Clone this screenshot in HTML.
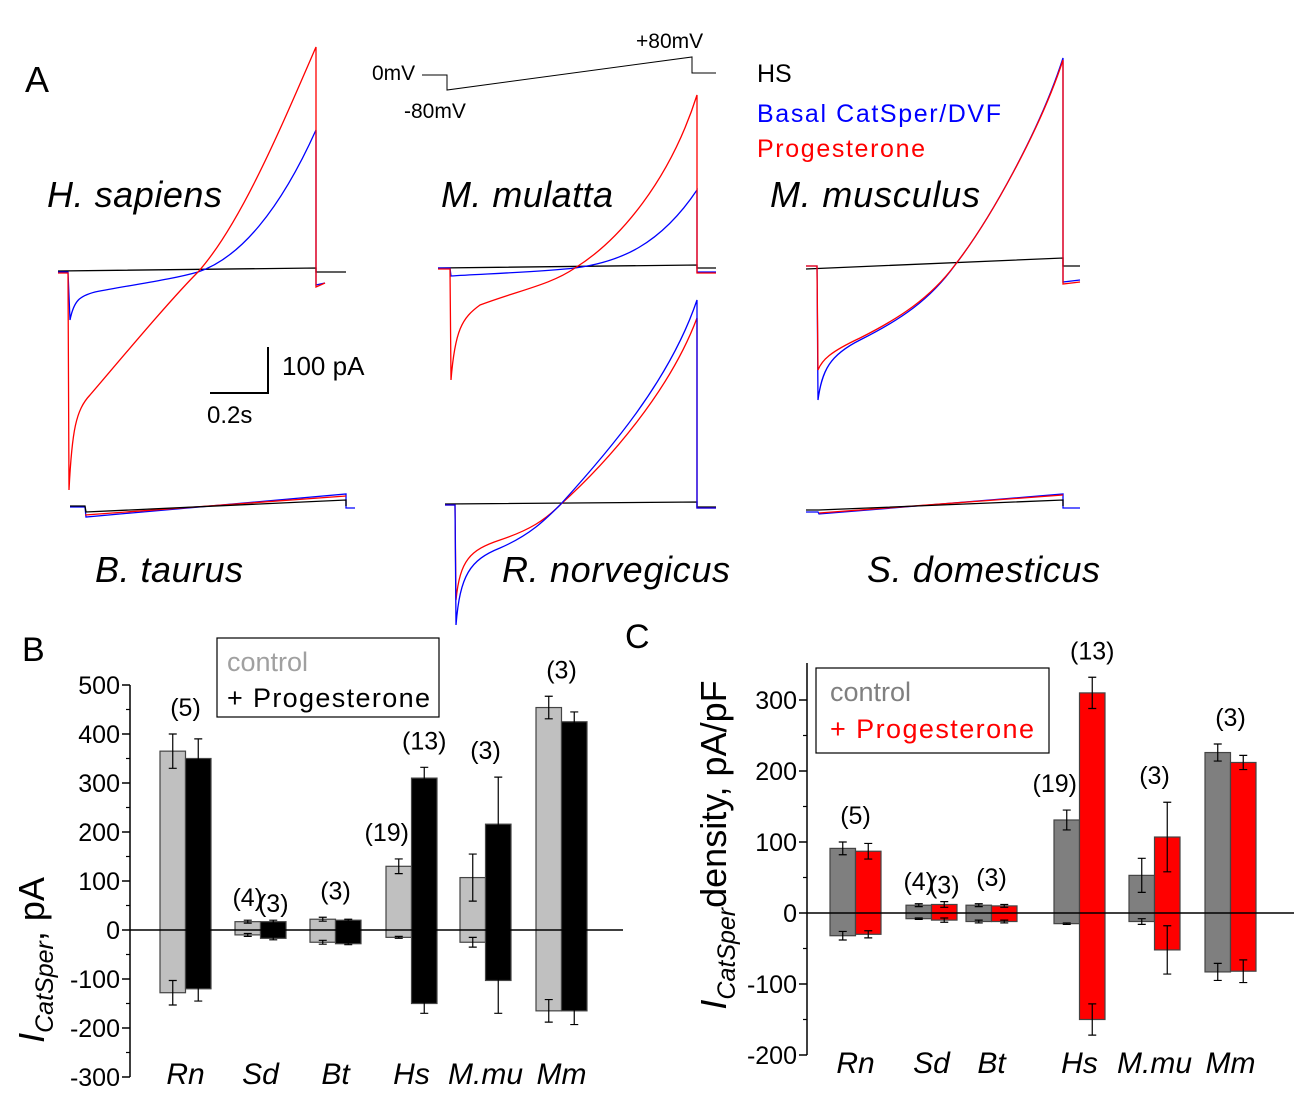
<!DOCTYPE html>
<html><head><meta charset="utf-8"><style>
body{margin:0;background:#fff}
svg{font-family:"Liberation Sans",Arial,sans-serif}
</style></head><body>
<svg id="fig" width="1299" height="1097" viewBox="0 0 1299 1097" xmlns="http://www.w3.org/2000/svg" style="position:absolute;left:0;top:0">
<g fill="none" stroke-width="1.3">
<text x="25" y="92" font-size="36" fill="#000" stroke="none">A</text>
<g stroke="#000" stroke-width="1">
<polyline points="422,75 447,75 447,90 692,57 692,73 716,73"/>
</g>
<text x="372" y="80" font-size="21" fill="#000" stroke="none">0mV</text>
<text x="404" y="118" font-size="21" fill="#000" stroke="none">-80mV</text>
<text x="636" y="48" font-size="21" fill="#000" stroke="none">+80mV</text>
<text x="757" y="82" font-size="25" fill="#000" stroke="none">HS</text>
<text x="757" y="122" font-size="25" fill="#0000ff" stroke="none" textLength="244">Basal CatSper/DVF</text>
<text x="757" y="157" font-size="25" fill="#ff0000" stroke="none" textLength="168">Progesterone</text>
<g>
<polyline stroke="#000" points="58,271 316,268 316,272 346,272"/>
<path stroke="#0000ff" d="M58,272 L68,272 L70,320 C74,300 80,296 95,292 C130,285 170,280 198,272 C240,258 280,210 316,130 L316,285 L325,283"/>
<path stroke="#ff0000" d="M58,273 L68,273 L69,490 C72,430 76,410 90,395 C120,360 170,300 198,272 C240,225 280,130 316,47 L316,287 L325,283"/>
</g>
<polyline stroke="#000" stroke-width="2" points="268,347 268,393 210,393"/>
<text x="282" y="375" font-size="26" fill="#000" stroke="none">100 pA</text>
<text x="207" y="423" font-size="24" fill="#000" stroke="none">0.2s</text>
<g>
<polyline stroke="#000" points="438,268 697,265 697,268 716,268"/>
<path stroke="#0000ff" d="M438,268 L450,268 L451,276 C480,274 540,272 575,268 C620,262 660,245 697,190 L697,272 L716,272"/>
<path stroke="#ff0000" d="M438,269 L450,269 L451,380 C455,330 462,318 480,305 C520,290 550,285 575,268 C620,240 670,180 697,95 L697,273 L716,273"/>
</g>
<g>
<polyline stroke="#000" points="806,269 1063,258 1063,266 1080,266"/>
<path stroke="#0000ff" d="M806,266 L817,266 L818,400 C822,370 830,355 860,340 C900,320 930,300 955,265 C990,220 1040,130 1063,58 L1063,282 L1080,280"/>
<path stroke="#ff0000" d="M806,266 L817,266 L818,370 C822,360 830,352 860,338 C900,318 930,298 955,265 C990,220 1040,130 1063,60 L1063,284 L1080,282"/>
</g>
<g>
<polyline stroke="#0000ff" points="70,507 85,507 86,517 346,494 346,508 355,508"/>
<polyline stroke="#ff0000" points="85,515 346,496"/>
<polyline stroke="#000" points="70,506 85,506 86,512 346,500 346,506"/>
</g>
<g>
<polyline stroke="#000" points="445,504 697,502 697,507 716,507"/>
<path stroke="#ff0000" d="M445,505 L455,505 L456,600 C460,560 470,550 500,540 C530,530 545,520 560,505 C610,460 670,390 697,318 L697,508 L716,508"/>
<path stroke="#0000ff" d="M445,505 L455,505 L456,625 C460,575 470,560 500,548 C530,535 545,520 560,505 C610,450 670,380 697,300 L697,508 L716,508"/>
</g>
<g>
<polyline stroke="#0000ff" points="806,512 818,512 819,514 1063,494 1063,508 1080,508"/>
<polyline stroke="#ff0000" points="819,513 1063,495"/>
<polyline stroke="#000" points="806,510 818,510 819,510 1063,500 1063,506"/>
</g>
<g font-size="36" font-style="italic" fill="#000" stroke="none">
<text x="47" y="207" textLength="175">H. sapiens</text>
<text x="441" y="207" textLength="172">M. mulatta</text>
<text x="770" y="207" textLength="210">M. musculus</text>
<text x="95" y="582" textLength="148">B. taurus</text>
<text x="502" y="582" textLength="228">R. norvegicus</text>
<text x="867" y="582" textLength="233">S. domesticus</text>
</g>
</g>
<g id="panelB"></g>
<g id="panelC"></g>
<text x="22" y="661" font-size="34">B</text>
<text x="625" y="648" font-size="34">C</text>
<g>
<rect x="217" y="638" width="222" height="79" fill="#fff" stroke="#000" stroke-width="1.2"/>
<text x="227" y="671" font-size="27" fill="#a0a0a0">control</text>
<text x="227" y="707" font-size="27" fill="#000" textLength="203">+ Progesterone</text>
</g>
<g>
<rect x="816" y="668" width="233" height="85" fill="#fff" stroke="#000" stroke-width="1.2"/>
<text x="830" y="701" font-size="27" fill="#808080">control</text>
<text x="830" y="738" font-size="27" fill="#ff0000" textLength="204">+ Progesterone</text>
</g>
<text transform="translate(44,960) rotate(-90)" font-size="36" text-anchor="middle"><tspan font-style="italic">I</tspan><tspan font-style="italic" font-size="25" dy="9">CatSper</tspan><tspan dy="-9">, pA</tspan></text>
<text transform="translate(726,845) rotate(-90)" font-size="36" text-anchor="middle"><tspan font-style="italic">I</tspan><tspan font-style="italic" font-size="25" dy="9">CatSper</tspan><tspan dy="-9">density, pA/pF</tspan></text>
</svg>
<script>
const categories = ["Rn","Sd","Bt","Hs","M.mu","Mm"];
const nLabelsB = [["(5)"],["(4)","(3)"],["(3)"],["(19)","(13)"],["(3)"],["(3)"]];
const bCtrlPos = [365,17,22,130,107,454];
const bCtrlNeg = [-128,-10,-25,-15,-25,-165];
const bCtrlPosErr = [35,3,4,15,48,23];
const bCtrlNegErr = [25,3,4,2,10,23];
const bProgPos = [350,17,20,310,216,425];
const bProgNeg = [-120,-17,-28,-150,-103,-165];
const bProgPosErr = [40,3,2,22,96,20];
const bProgNegErr = [25,3,2,20,67,28];
const bTicks = [500,400,300,200,100,0,-100,-200,-300];
const cCtrlPos = [91,11,11,131,53,226];
const cCtrlNeg = [-32,-8,-12,-15,-12,-83];
const cCtrlPosErr = [9,2,2,14,24,12];
const cCtrlNegErr = [6,1,2,1,4,12];
const cProgPos = [87,12,10,310,107,212];
const cProgNeg = [-30,-10,-12,-150,-52,-82];
const cProgPosErr = [11,4,2,22,49,10];
const cProgNegErr = [5,3,2,22,34,16];
const cTicks = [300,200,100,0,-100,-200];
const NS="http://www.w3.org/2000/svg";
function mk(parent,tag,attrs,text){const e=document.createElementNS(NS,tag);for(const k in attrs)e.setAttribute(k,attrs[k]);if(text!==undefined)e.textContent=text;parent.appendChild(e);return e;}

function drawPanel(g,cfg){
  const y=v=>cfg.y0-v*cfg.ppu;
  const ax=mk(g,'line',{x1:cfg.ax,x2:cfg.ax,y1:cfg.axTop,y2:cfg.axBot,stroke:'#000','stroke-width':1.5});
  
  
  cfg.ticks.forEach((t,i)=>{
    const tk=mk(g,'line',{x1:cfg.ax-8,x2:cfg.ax,y1:y(t),y2:y(t),stroke:'#000','stroke-width':1.5});
    
    
    if(i<cfg.ticks.length-1){const m=mk(g,'line',{x1:cfg.ax-4,x2:cfg.ax,y1:y(t-cfg.step/2),y2:y(t-cfg.step/2),stroke:'#000','stroke-width':1.2});
    
    }
    const tl=mk(g,'text',{x:cfg.ax-10,y:y(t)+9,'font-size':25,'text-anchor':'end',fill:'#000'},String(t));
    
    
  });
  categories.forEach((c,i)=>{
    const x0=cfg.barX[i];
    [[cfg.cp,cfg.cn,cfg.cpe,cfg.cne,cfg.ctrlFill,'control'],[cfg.pp,cfg.pn,cfg.ppe,cfg.pne,cfg.progFill,'progesterone']].forEach((s,j)=>{
      const bx=x0+j*cfg.bw;
      const r=mk(g,'rect',{x:bx,y:y(s[0][i]),width:cfg.bw,height:y(s[1][i])-y(s[0][i]),fill:s[4],stroke:'#444','stroke-width':1.2});
      
      
      const cx=bx+cfg.bw/2;
      [[s[0][i],s[2][i]],[s[1][i],-s[3][i]]].forEach(([v,e])=>{
        const eb=mk(g,'path',{d:`M${cx},${y(v-e)} L${cx},${y(v+e)} M${cx-4},${y(v-e)} L${cx+4},${y(v-e)} M${cx-4},${y(v+e)} L${cx+4},${y(v+e)}`,stroke:'#000','stroke-width':1.2,fill:'none'});
        
        
      });
    });
    const cl=mk(g,'text',{x:x0+cfg.bw,y:cfg.catY,'font-size':30,'font-style':'italic','text-anchor':'middle',fill:'#000'},c);
    
    
  });
  const z=mk(g,'line',{x1:cfg.ax,x2:cfg.zEnd,y1:y(0),y2:y(0),stroke:'#000','stroke-width':1.5});
  
  
  categories.forEach((c,i)=>{
    const x0=cfg.barX[i];
    const labs=nLabelsB[i];
    labs.forEach((L,j)=>{
      let lx,ly;
      if(labs.length===2){const v=j?cfg.pp[i]+cfg.ppe[i]:cfg.cp[i]+cfg.cpe[i];lx=x0+cfg.bw*(j+0.5)+(i===3&&j===0?-12:0);ly=y(v)-(i===1?(j?8:14):18);}
      else{const v=Math.max(cfg.cp[i]+cfg.cpe[i],cfg.pp[i]+cfg.ppe[i]);lx=x0+cfg.bw;ly=y(v)-18;}
      const nl=mk(g,'text',{x:lx,y:ly,'font-size':25,'text-anchor':'middle',fill:'#000'},L);
      
      
    });
  });
}
const gB=document.getElementById('panelB');
drawPanel(gB,{y0:930,ppu:0.49,ax:130,axTop:685,axBot:1077,ticks:bTicks,step:100,barX:[160,235,310,386,460,536],bw:25.5,
 cp:bCtrlPos,cn:bCtrlNeg,cpe:bCtrlPosErr,cne:bCtrlNegErr,pp:bProgPos,pn:bProgNeg,ppe:bProgPosErr,pne:bProgNegErr,ctrlFill:'#c0c0c0',progFill:'#000',catY:1084,zEnd:623});
const gC=document.getElementById('panelC');
drawPanel(gC,{y0:913,ppu:0.71,ax:807,axTop:663,axBot:1055,ticks:cTicks,step:100,barX:[830,906,966,1054,1129,1205],bw:25.5,
 cp:cCtrlPos,cn:cCtrlNeg,cpe:cCtrlPosErr,cne:cCtrlNegErr,pp:cProgPos,pn:cProgNeg,ppe:cProgPosErr,pne:cProgNegErr,ctrlFill:'#7f7f7f',progFill:'#ff0000',catY:1073,zEnd:1294});
</script>
</body></html>
